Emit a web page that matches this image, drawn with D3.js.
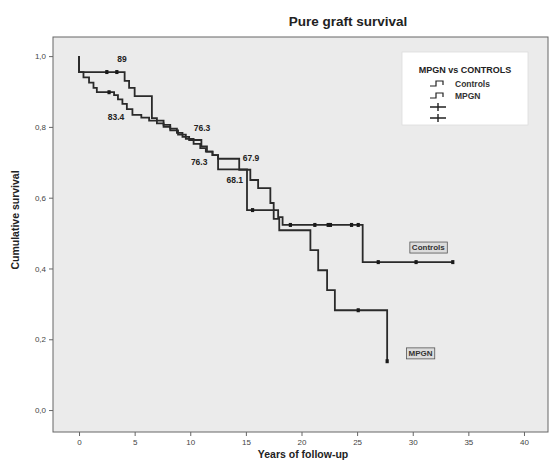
<!DOCTYPE html>
<html><head><meta charset="utf-8">
<script src="https://cdn.jsdelivr.net/npm/d3@7"></script>
<style>
html,body{margin:0;padding:0;background:#fff;}
svg{display:block;font-family:"Liberation Sans",Arial,sans-serif;}
</style></head>
<body><svg id="c" width="550" height="461"></svg>
<script>
// ---- data ----
const xTicks = [0, 5, 10, 15, 20, 25, 30, 35, 40];
const yTicks = [0, 0.2, 0.4, 0.6, 0.8, 1.0];
const yTickLabels = ["0,0", "0,2", "0,4", "0,6", "0,8", "1,0"];

const ctlEventT = [0, 4.1, 4.5, 5.0, 6.55, 7.0, 7.6, 8.2, 8.8, 9.3, 9.9, 11.0, 11.5, 12.0, 12.5, 14.4, 15.4, 16.1, 17.2, 17.5, 17.9, 18.3, 25.5];
const ctlEventS = [0.955, 0.93, 0.91, 0.887, 0.825, 0.818, 0.806, 0.795, 0.783, 0.772, 0.763, 0.745, 0.73, 0.72, 0.71, 0.679, 0.65, 0.627, 0.585, 0.565, 0.545, 0.523, 0.418];
const ctlCensor = [2.5, 3.4, 19.0, 21.2, 22.4, 22.6, 24.5, 25.1, 26.9, 30.3, 33.6];

const mpgnEventT = [0, 0.4, 0.9, 1.3, 1.6, 3.15, 3.5, 3.9, 4.3, 4.8, 5.6, 6.3, 7.0, 7.6, 8.2, 8.9, 9.6, 10.3, 10.9, 11.4, 12.0, 12.5, 15.1, 17.5, 18.0, 20.8, 21.5, 22.3, 23.0, 27.7];
const mpgnEventS = [0.955, 0.94, 0.925, 0.91, 0.898, 0.89, 0.878, 0.865, 0.85, 0.834, 0.826, 0.818, 0.81, 0.8, 0.79, 0.778, 0.766, 0.752, 0.74, 0.73, 0.72, 0.68, 0.565, 0.54, 0.508, 0.452, 0.395, 0.339, 0.282, 0.138];
const mpgnCensor = [2.7, 15.6, 25.1, 27.7];

const annoText = ["89", "83.4", "76.3", "76.3", "67.9", "68.1"];
const annoT = [3.87, 3.33, 11.06, 10.8, 15.46, 14.0];
const annoS = [0.992, 0.828, 0.797, 0.70, 0.712, 0.65];

const groupNames = ["Controls", "MPGN"];
const groupLabelT = [31.4, 30.7];
const groupLabelS = [0.46, 0.161];

// ---- chart ----
const svg = d3.select("#c");
const L = 53, R = 548, T = 37, B = 432;
const x = d3.scaleLinear().domain([-2.34, 42.16]).range([L, R]);
const y = d3.scaleLinear().domain([-0.062, 1.054]).range([B, T]);

svg.append("rect").attr("x", L).attr("y", T).attr("width", R - L).attr("height", B - T)
  .attr("fill", "#ebebeb").attr("stroke", "#666").attr("stroke-width", 1);

// axes
const xAxis = d3.axisBottom(x).tickValues(xTicks).tickSize(4).tickPadding(3);
const gx = svg.append("g").attr("transform", `translate(0,${B})`).call(xAxis);
gx.select(".domain").remove();
gx.selectAll("line").attr("stroke", "#666");
gx.selectAll("text").attr("font-size", 8).attr("fill", "#444");

const yAxis = d3.axisLeft(y).tickValues(yTicks).tickSize(4).tickPadding(3)
  .tickFormat((d, i) => yTickLabels[i]);
const gy = svg.append("g").attr("transform", `translate(${L},0)`).call(yAxis);
gy.select(".domain").remove();
gy.selectAll("line").attr("stroke", "#666");
gy.selectAll("text").attr("font-size", 8).attr("fill", "#444");

// titles
svg.append("text").attr("x", 348).attr("y", 26).attr("text-anchor", "middle")
  .attr("font-size", 13.5).attr("font-weight", "bold").attr("fill", "#222").text("Pure graft survival");
svg.append("text").attr("x", 303).attr("y", 458).attr("text-anchor", "middle")
  .attr("font-size", 10.5).attr("font-weight", "bold").attr("fill", "#222").text("Years of follow-up");
svg.append("text").attr("transform", "translate(19,220) rotate(-90)").attr("text-anchor", "middle")
  .attr("font-size", 10.5).attr("font-weight", "bold").attr("fill", "#222").text("Cumulative survival");

// curves
function curvePts(ts, ss, cens) {
  const pts = [[0, 1.0]];
  ts.forEach((t, i) => pts.push([t, ss[i]]));
  const lastT = Math.max(ts[ts.length - 1], d3.max(cens));
  pts.push([lastT, ss[ss.length - 1]]);
  return pts;
}
function survAt(ts, ss, t) {
  let s = 1.0;
  ts.forEach((tt, i) => { if (tt <= t) s = ss[i]; });
  return s;
}
const line = d3.line().x(d => x(d[0])).y(d => y(d[1])).curve(d3.curveStepAfter);
const groups = [
  {t: ctlEventT, s: ctlEventS, c: ctlCensor},
  {t: mpgnEventT, s: mpgnEventS, c: mpgnCensor}
];
groups.forEach(g => {
  svg.append("path").attr("d", line(curvePts(g.t, g.s, g.c)))
    .attr("fill", "none").attr("stroke", "#2a2a2a").attr("stroke-width", 1.8);
  svg.selectAll(null).data(g.c).enter().append("rect")
    .attr("x", d => x(d) - 1.6).attr("y", d => y(survAt(g.t, g.s, d)) - 2)
    .attr("width", 3.2).attr("height", 4).attr("fill", "#1a1a1a");
});

// annotations
annoText.forEach((txt, i) => {
  svg.append("text").attr("x", x(annoT[i])).attr("y", y(annoS[i]))
    .attr("dy", "0.35em").attr("text-anchor", "middle")
    .attr("font-size", 8.5).attr("font-weight", "bold").attr("fill", "#222").text(txt);
});
groupNames.forEach((nm, i) => {
  const g = svg.append("g");
  const rect = g.append("rect");
  const t = g.append("text").attr("x", x(groupLabelT[i])).attr("y", y(groupLabelS[i]))
    .attr("dy", "0.35em").attr("text-anchor", "middle")
    .attr("font-size", 8).attr("font-weight", "bold").attr("fill", "#333").text(nm);
  const bb = t.node().getBBox();
  rect.attr("x", bb.x - 2).attr("y", bb.y - 1).attr("width", bb.width + 4).attr("height", bb.height + 2)
    .attr("fill", "#dcdcdc").attr("stroke", "#555").attr("stroke-width", 0.8);
});

// legend
const lg = svg.append("g");
lg.append("rect").attr("x", 402).attr("y", 52).attr("width", 126).attr("height", 73)
  .attr("fill", "#fff").attr("stroke", "#ddd").attr("stroke-width", 0.8);
lg.append("text").attr("x", 465).attr("y", 73).attr("text-anchor", "middle")
  .attr("font-size", 9).attr("font-weight", "bold").attr("fill", "#222").text("MPGN vs CONTROLS");
groupNames.forEach((nm, i) => {
  const yy = 84 + i * 12;
  lg.append("path").attr("d", `M430,${yy + 2}H436V${yy - 3}H443V${yy + 1}`)
    .attr("fill", "none").attr("stroke", "#222").attr("stroke-width", 1.2);
  lg.append("text").attr("x", 455).attr("y", yy + 3).attr("font-size", 8.5)
    .attr("font-weight", "bold").attr("fill", "#333").text(nm);
});
[107, 118].forEach(yy => {
  lg.append("path").attr("d", `M430,${yy}H446M438,${yy - 4}V${yy + 4}`)
    .attr("fill", "none").attr("stroke", "#222").attr("stroke-width", 1.4);
});
</script></body></html>
